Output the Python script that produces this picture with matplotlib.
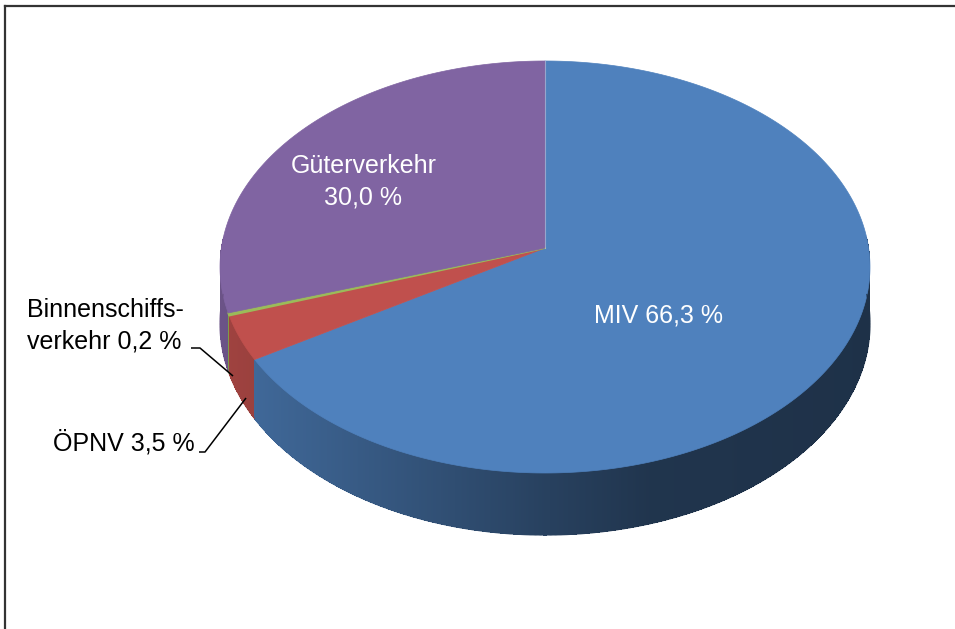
import numpy as np
import matplotlib
matplotlib.use("Agg")
import matplotlib.pyplot as plt
from matplotlib.patches import Polygon
from matplotlib.collections import PolyCollection, LineCollection
from matplotlib.lines import Line2D
from matplotlib.colors import to_rgb

# ---------------- data ----------------
categories = ["MIV", "ÖPNV", "Binnenschiffsverkehr", "Güterverkehr"]
values = [66.3, 3.5, 0.2, 30.0]
colors = ["#4F81BD", "#C0504D", "#9BBB59", "#8064A2"]


def fmt(v):
    return f"{v:.1f}".replace(".", ",") + " %"


plt.rcParams["font.family"] = ["Liberation Sans", "DejaVu Sans"]

W, H = 955, 629
fig = plt.figure(figsize=(W / 100, H / 100), dpi=100)
ax = fig.add_axes([0, 0, 1, 1])
ax.set_xlim(0, W)
ax.set_ylim(H, 0)
ax.axis("off")

# ---------------- 3D pie geometry (perspective) ----------------
AX, AY = 545, 248      # projected centre of the pie
k = 0.0922             # perspective factor
a, b = 323.6, 204.25   # radii
D = 56.3               # thickness


def proj(theta, drop=0.0):
    u = np.sin(theta)
    v = np.cos(theta)
    w = 1 + k * v
    x = AX + a * u / w
    y = AY - b * v / w + drop * D / w
    return x, y


fr = np.array(values) / np.sum(values)
edges = np.concatenate([[0], np.cumsum(fr)]) * 2 * np.pi


def shade(x):
    return np.interp(x, [215, 260, 400, 550, 650, 880],
                     [0.84, 0.80, 0.66, 0.50, 0.41, 0.38])


# side walls (front half only)
quads, qcols, qkeys = [], [], []
segs, scols = [], []
for i, c in enumerate(colors):
    t0 = max(edges[i], np.pi / 2 - 0.05)
    t1 = min(edges[i + 1], 3 * np.pi / 2 + 0.05)
    if t1 <= t0:
        continue
    n = max(3, int(np.degrees(t1 - t0) / 0.2))
    th = np.linspace(t0, t1, n + 1)
    xt, yt = proj(th)
    xb, yb = proj(th, 1.0)
    base = np.array(to_rgb(c))
    for j in range(n):
        q = [(xt[j], yt[j]), (xt[j + 1], yt[j + 1]),
             (xb[j + 1], yb[j + 1]), (xb[j], yb[j])]
        xm = 0.5 * (xt[j] + xt[j + 1])
        col = np.clip(base * shade(xm), 0, 1)
        quads.append(q)
        qcols.append(col)
        qkeys.append(np.cos(0.5 * (th[j] + th[j + 1])))
        segs.append([(xb[j], yb[j]), (xb[j + 1], yb[j + 1])])
        scols.append(col)
order = np.argsort(qkeys)[::-1]
pc = PolyCollection([quads[o] for o in order],
                    facecolors=[qcols[o] for o in order],
                    edgecolors="none", linewidths=0, antialiased=False)
ax.add_collection(pc)
ax.add_collection(LineCollection(segs, colors=scols, linewidths=0.9,
                                 antialiased=True))

# top faces
for i, c in enumerate(colors):
    t0, t1 = edges[i], edges[i + 1]
    th = np.linspace(t0, t1, max(4, int(np.degrees(t1 - t0) * 3)))
    xt, yt = proj(th)
    pts = [(AX, AY)] + list(zip(xt, yt))
    lw = 1.3 if fr[i] < 0.01 else 0.5
    ax.add_patch(Polygon(pts, closed=True, facecolor=c, edgecolor=c,
                         linewidth=lw, joinstyle="round"))

# subtle slice border at the top
x1, y1 = proj(edges[0])
ax.plot([AX, x1], [AY, y1], color="white", alpha=0.35, lw=0.8)

# ---------------- labels ----------------
fs = 18
ax.text(658, 323, f"{categories[0]} {fmt(values[0])}", color="white",
        fontsize=fs, ha="center", va="baseline")
ax.text(364, 173, categories[3], color="white", fontsize=fs,
        ha="center", va="baseline")
ax.text(363, 205, fmt(values[3]), color="white", fontsize=fs,
        ha="center", va="baseline")
ax.text(27, 317, "Binnenschiffs-", color="black", fontsize=fs,
        ha="left", va="baseline")
ax.text(27, 348, f"verkehr {fmt(values[2])}", color="black", fontsize=fs,
        ha="left", va="baseline")
ax.text(195, 450, f"{categories[1]} {fmt(values[1])}", color="black",
        fontsize=fs, ha="right", va="baseline")

# leader lines
ax.plot([191, 200, 233], [348, 348, 376], color="black", lw=1.1,
        solid_capstyle="butt")
ax.plot([199, 205, 246], [452, 452, 398], color="black", lw=1.1,
        solid_capstyle="butt")

# frame (top and left edges)
fig.add_artist(Line2D([5 / W, 1.0], [1 - 6 / H, 1 - 6 / H],
                      transform=fig.transFigure, color="#333333", lw=1.6))
fig.add_artist(Line2D([5 / W, 5 / W], [0.0, 1 - 6 / H],
                      transform=fig.transFigure, color="#333333", lw=1.6))

fig.savefig("out.png", dpi=100, facecolor="white")
